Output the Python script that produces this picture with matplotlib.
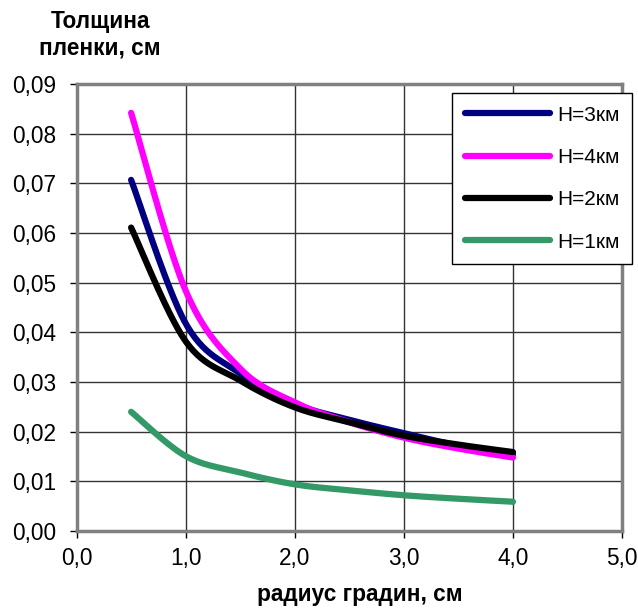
import numpy as np
import matplotlib
matplotlib.use("Agg")
import matplotlib.pyplot as plt

# ---- data ----
radius = [0.5, 1.0, 1.5, 2.0, 2.5, 3.0, 3.5, 4.0]
h3 = [0.0707, 0.0418, 0.0317, 0.0256, 0.0224, 0.0197, 0.0172, 0.0154]
h4 = [0.0842, 0.0484, 0.0327, 0.0259, 0.0219, 0.0188, 0.0166, 0.0148]
h2 = [0.0611, 0.0382, 0.0303, 0.0249, 0.0219, 0.0192, 0.0174, 0.0159]
h1 = [0.0240, 0.0151, 0.0118, 0.0094, 0.0082, 0.0072, 0.0065, 0.0059]
labels = ["H=3км", "H=4км", "H=2км", "H=1км"]
colors = ["#000080", "#FF00FF", "#000000", "#339966"]
xticks = [0, 1, 2, 3, 4, 5]
yticks = [0, 0.01, 0.02, 0.03, 0.04, 0.05, 0.06, 0.07, 0.08, 0.09]


def smooth(x, y, n=30):
    """Excel-like smoothed line (Catmull-Rom Bezier)."""
    x = np.asarray(x, float); y = np.asarray(y, float)
    P = np.column_stack([x, y])
    out = []
    for i in range(len(P) - 1):
        p0 = P[i - 1] if i > 0 else P[i]
        p1 = P[i]; p2 = P[i + 1]
        p3 = P[i + 2] if i + 2 < len(P) else P[i + 1]
        c1 = p1 + (p2 - p0) / 6.0
        c2 = p2 - (p3 - p1) / 6.0
        t = np.linspace(0, 1, n)[:, None]
        seg = ((1 - t) ** 3) * p1 + 3 * ((1 - t) ** 2) * t * c1 + 3 * (1 - t) * t ** 2 * c2 + t ** 3 * p2
        out.append(seg if i == 0 else seg[1:])
    out = np.vstack(out)
    return out[:, 0], out[:, 1]


plt.rcParams['font.family'] = ['Liberation Sans', 'DejaVu Sans']

fig = plt.figure(figsize=(6.38, 6.08), dpi=100)
ax = fig.add_axes([0.12, 0.1266, 0.855, 0.7352])

for ys, lab, c in zip([h3, h4, h2, h1], labels, colors):
    sx, sy = smooth(radius, ys)
    ax.plot(sx, sy, color=c, lw=4.5, solid_capstyle='round', label=lab)

ax.set_xlim(0, 5)
ax.set_ylim(0, 0.09)
ax.set_xticks(xticks)
ax.set_yticks(yticks)
ax.set_xticklabels([f"{v:.1f}".replace('.', ',') for v in xticks])
ax.set_yticklabels([f"{v:.2f}".replace('.', ',') for v in yticks])
ax.tick_params(axis='both', labelsize=16.3, direction='out', length=5, width=1, color='black')
ax.tick_params(axis='x', pad=6.5)
ax.tick_params(axis='y', pad=9.4)
ax.grid(True, color='#333333', lw=1)
ax.set_axisbelow(True)
for s in ax.spines.values():
    s.set_color('#808080')
    s.set_linewidth(2.5)

leg = ax.legend(loc='upper right', bbox_to_anchor=(0.991, 0.847), bbox_transform=fig.transFigure,
                fontsize=15, frameon=True, fancybox=False, handlelength=4.1, handletextpad=0.35,
                labelspacing=1.12, borderpad=0.6, borderaxespad=0)
leg.get_frame().set_edgecolor('black')
leg.get_frame().set_linewidth(1)
leg.get_frame().set_alpha(1)

fig.text(100 / 638, 1 - 35 / 608, "Толщина\nпленки, см", ha='center', va='center',
         fontsize=16.3, fontweight='bold', linespacing=1.2)
fig.text(360 / 638, 1 - 594 / 608, "радиус градин, см", ha='center', va='center',
         fontsize=16.3, fontweight='bold')

fig.savefig("out.png", dpi=100)
